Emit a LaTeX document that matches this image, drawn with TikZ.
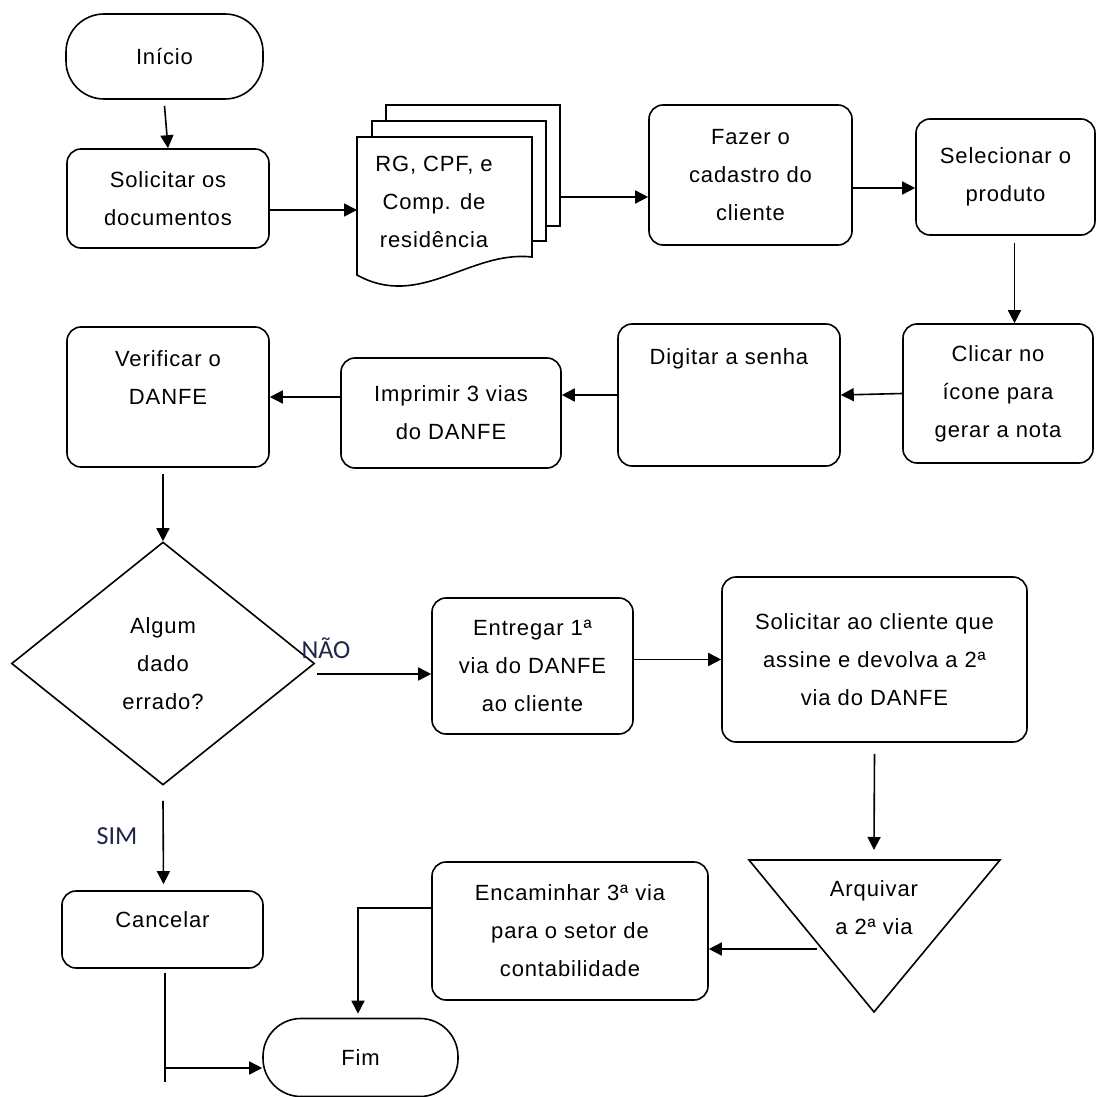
\documentclass[tikz,border=0pt]{standalone}
\usepackage{fontspec}
\setmainfont{Liberation Sans}[LetterSpace=4]
\newfontfamily\lblfont{Carlito}
\usepackage{tikz}
\usetikzlibrary{arrows.meta,shapes.geometric}
\definecolor{lblblue}{RGB}{28,38,75}

\begin{document}
\begin{tikzpicture}[
  x=0.5pt, y=-0.5pt,
  box/.style={rectangle, rounded corners=7pt, draw=black, fill=white, line width=0.8pt,
              align=center, inner sep=2pt, font=\fontsize{11}{19}\selectfont},
  term/.style={box, rounded corners=19pt},
  decision/.style={diamond, draw=black, fill=white, line width=0.8pt, inner sep=0pt,
                   align=center, font=\fontsize{11}{19}\selectfont},
  doc/.style={draw=black, fill=white, line width=0.8pt},
  txt/.style={align=center, inner sep=0pt, font=\fontsize{11}{19}\selectfont},
  lbl/.style={font=\lblfont\fontsize{13}{15}\selectfont, text=lblblue, inner sep=0pt},
  arrow/.style={-{Triangle[length=6.5pt,width=6.5pt]}, line width=0.8pt},
  line/.style={line width=0.8pt}
]
\useasboundingbox[fill=white] (0,0) rectangle (1099,1097);

% nós
\node[term, minimum width=98.5pt, minimum height=42.5pt] (inicio) at (164.5,56.5) {Início};
\node[box, minimum width=101pt, minimum height=49.5pt] (solic) at (168,198.5) {Solicitar os\\documentos};
\node[box, minimum width=101.5pt, minimum height=70pt] (cadastro) at (750.5,175) {Fazer o\\cadastro do\\cliente};
\node[box, minimum width=89.5pt, minimum height=58pt] (produto) at (1005.5,177) {Selecionar o\\produto};
\node[box, minimum width=95pt, minimum height=69.5pt] (clicar) at (998,393.5) {Clicar no\\ícone para\\gerar a nota};
\node[box, minimum width=111pt, minimum height=71pt] (senha) at (729,395) {Digitar a senha\\\mbox{}\\\mbox{}};
\node[box, minimum width=110pt, minimum height=55pt] (imprimir) at (451,413) {Imprimir 3 vias\\do DANFE};
\node[box, minimum width=101pt, minimum height=70pt] (verificar) at (168,397) {Verificar o\\DANFE\\\mbox{}};
\node[decision, minimum width=151.5pt, minimum height=121.5pt] (decisao) at (163,663.5) {Algum\\dado\\errado?};
\node[box, minimum width=100.5pt, minimum height=68pt] (entregar) at (532.5,666) {Entregar 1ª\\via do DANFE\\ao cliente};
\node[box, minimum width=152.5pt, minimum height=82.5pt] (solcli) at (874.5,659.5) {Solicitar ao cliente que\\assine e devolva a 2ª\\via do DANFE};
\node[box, minimum width=138pt, minimum height=69pt] (encaminhar) at (570,931) {Encaminhar 3ª via\\para o setor de\\contabilidade};
\node[box, minimum width=100.5pt, minimum height=38.5pt, text depth=10pt] (cancelar) at (162.5,929.5) {Cancelar};
\node[term, minimum width=97.5pt, minimum height=39pt] (fim) at (360.5,1057.5) {Fim};

% pilha de documentos
\draw[doc] (386,105) rectangle (560,226);
\draw[doc] (372,121) rectangle (546,241);
\draw[doc] (357,137) -- (532,137) -- (532,257) .. controls (470,250) and (420,310) .. (357,275) -- cycle;
\node[txt] (docs) at (434,202) {RG, CPF, e\\Comp. de\\residência};

% arquivo (triângulo)
\draw[doc] (749,860) -- (1000,860) -- (874,1012) -- cycle;
\node[txt] (arquivar) at (874,908) {Arquivar\\a 2ª via};

% pontos soltos
\coordinate (docsin) at (357,210);
\coordinate (docsout) at (560,197);
\coordinate (naoin) at (317,674);
\coordinate (arqtip) at (874,850);
\coordinate (arqout) at (817,949);
\coordinate (ctop) at (165,973);
\coordinate (cjoin) at (165,1068);
\coordinate (ctail) at (165,1082);

% setas
\draw[arrow] ([yshift=-3pt]inicio.south) -- (solic.north);
\draw[arrow] (solic.east |- docsin) -- (docsin);
\draw[arrow] (docsout) -- (cadastro.west |- docsout);
\draw[arrow] (cadastro.east |- 0,188) -- (produto.west |- 0,188);
\draw[arrow] ([xshift=4.5pt,yshift=-3.5pt]produto.south) -- ([xshift=4.5pt]produto.south |- clicar.north);
\draw[arrow] (clicar.west) -- (senha.east);
\draw[arrow] (senha.west) -- (imprimir.east |- senha.west);
\draw[arrow] (imprimir.west |- verificar.east) -- (verificar.east);
\draw[arrow] ([yshift=-3pt]decisao.north |- verificar.south) -- (decisao.north);
\draw[arrow] (naoin) -- (entregar.west |- naoin);
\draw[arrow] (entregar.east |- solcli.west) -- (solcli.west);
\draw[arrow] ([yshift=-5.5pt]solcli.south) -- (arqtip);
\draw[arrow] (arqout) -- (encaminhar.east |- arqout);
\draw[arrow] (encaminhar.west |- 0,908) -| ([xshift=-1.25pt,yshift=2pt]fim.north);
\draw[arrow] ([yshift=-7.5pt]decisao.south) -- ([xshift=0.5pt,yshift=3pt]cancelar.north);
\draw[line] (ctop) -- (ctail);
\draw[arrow] (cjoin) -- (fim.west |- cjoin);

% rótulos
\node[lbl] (nao) at (326,648) {NÃO};
\node[lbl] (sim) at (117,836) {SIM};
\end{tikzpicture}
\end{document}
